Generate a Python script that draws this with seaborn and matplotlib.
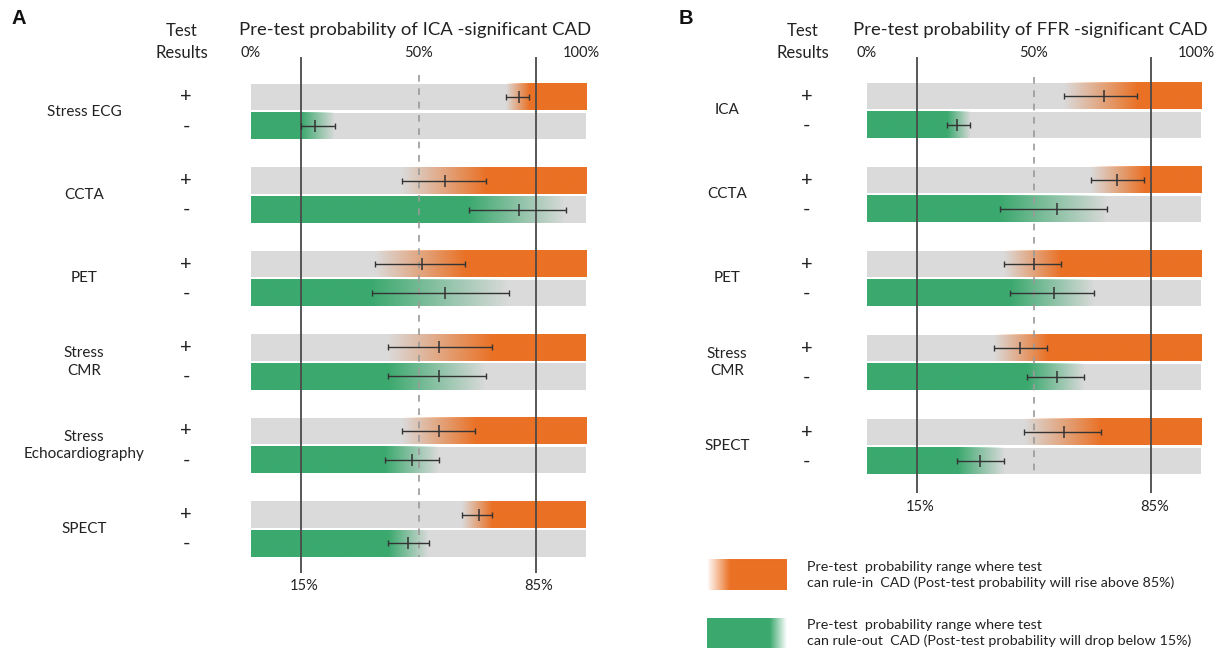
import numpy as np
import pandas as pd
import matplotlib
matplotlib.use("Agg")
import matplotlib.pyplot as plt
import seaborn as sns
from matplotlib.colors import to_rgb

# ---------------- data ----------------
A_tests = ["Stress ECG", "CCTA", "PET", "Stress\nCMR", "Stress\nEchocardiography", "SPECT"]
A_pos_center = [80, 58, 51, 56, 56, 68]
A_pos_low = [76, 45, 37, 41, 45, 63]
A_pos_high = [83, 70, 64, 72, 67, 72]
A_neg_center = [19, 80, 58, 56, 48, 47]
A_neg_low = [15, 65, 36, 41, 40, 41]
A_neg_high = [25, 94, 77, 70, 56, 53]

B_tests = ["ICA", "CCTA", "PET", "Stress\nCMR", "SPECT"]
B_pos_center = [71, 75, 50, 46, 59]
B_pos_low = [59, 67, 41, 38, 47]
B_pos_high = [81, 83, 58, 54, 70]
B_neg_center = [27, 57, 56, 57, 34]
B_neg_low = [24, 40, 43, 48, 27]
B_neg_high = [31, 72, 68, 65, 41]

tick_vals = [0, 50, 100]
tick_labels = ["0%", "50%", "100%"]
threshold_vals = [15, 85]
threshold_labels = ["15%", "85%"]

titles = ["Pre-test probability of ICA -significant CAD",
          "Pre-test probability of FFR -significant CAD"]
panel_letters = ["A", "B"]
legend_texts = ["Pre-test  probability range where test\ncan rule-in  CAD (Post-test probability will rise above 85%)",
                "Pre-test  probability range where test\ncan rule-out  CAD (Post-test probability will drop below 15%)"]

# ---------------- style ----------------
ORANGE = "#EA7125"
GREEN = "#3BA96E"
GRAY = "#DADADA"
DARK = "#333333"
TXT = "#222222"

sns.set_theme(style="white")
plt.rcParams["font.family"] = ["Lato", "DejaVu Sans"]

W, H = 1227, 651
fig = plt.figure(figsize=(W / 100, H / 100), dpi=100)


def gradient(ax, x0, x1, yc, h, color, low, high, rising, z=2, n=600):
    xs = np.linspace(x0, x1, n)
    if rising:
        a = np.clip((xs - low) / (high - low), 0, 1)
    else:
        a = np.clip((high - xs) / (high - low), 0, 1)
    rgb = to_rgb(color)
    img = np.zeros((1, n, 4))
    img[0, :, :3] = rgb
    img[0, :, 3] = a
    ax.imshow(img, extent=[x0, x1, yc + h / 2, yc - h / 2], aspect="auto",
              interpolation="bilinear", zorder=z)


def panel(left_px, right_px, y0_px, pitch_px, tests, pc, pl, ph, nc, nl, nh,
          label_px, sign_px, line_top_px, line_bot_px, dash_top_px, dash_bot_px,
          thr_label_px, title, letter, letter_px):
    ax = fig.add_axes([left_px / W, 0, (right_px - left_px) / W, 1])
    scale = (right_px - left_px) / 100.0

    def py(px):
        return (px - y0_px) / pitch_px

    def px_x(px):
        return (px - left_px) / scale

    bh = 26.5 / pitch_px
    off = 29.0 / pitch_px
    n = len(tests)
    ypos = np.arange(n, dtype=float)
    yneg = ypos + off

    # gray background bars
    ax.barh(np.concatenate([ypos, yneg]), 100, left=0, height=bh, color=GRAY,
            edgecolor="none", zorder=1)
    # gradients
    for i in range(n):
        gradient(ax, pl[i], 100, ypos[i], bh, ORANGE, pl[i], ph[i], True)
        gradient(ax, 0, nh[i], yneg[i], bh, GREEN, nl[i], nh[i], False)

    # reference lines
    ax.vlines(threshold_vals, py(line_top_px), py(line_bot_px), color="#4a4a4a",
              lw=1.3, zorder=3)
    ax.vlines([50], py(dash_top_px), py(dash_bot_px), color="#9a9a9a", lw=1.2,
              linestyles=(0, (4, 4)), zorder=3)

    # error bars
    df = pd.DataFrame({
        "center": list(pc) + list(nc),
        "low": list(pl) + list(nl),
        "high": list(ph) + list(nh),
        "y": list(ypos) + list(yneg),
    })
    ax.errorbar(df["center"], df["y"],
                xerr=[df["center"] - df["low"], df["high"] - df["center"]],
                fmt="none", ecolor=DARK, elinewidth=1.0, capsize=2.5,
                capthick=1.0, zorder=5)
    sns.scatterplot(data=df, x="center", y="y", marker="|", s=75, color=DARK,
                    linewidth=1.1, ax=ax, zorder=6, legend=False)

    # texts
    for i, t in enumerate(tests):
        ax.text(px_x(label_px), (ypos[i] + yneg[i]) / 2, t, ha="center",
                va="center", fontsize=11, color=TXT, linespacing=1.35)
        ax.text(px_x(sign_px), ypos[i], "+", ha="center", va="center",
                fontsize=14.5, color=TXT)
        ax.text(px_x(sign_px), yneg[i], "-", ha="center", va="center",
                fontsize=14.5, color=TXT)
    ax.text(px_x(sign_px - 4), py(31), "Test", ha="center", va="center",
            fontsize=12, color=TXT)
    ax.text(px_x(sign_px - 4), py(53), "Results", ha="center", va="center",
            fontsize=12, color=TXT)
    ax.text(49, py(30), title, ha="center", va="center", fontsize=13.3,
            color=TXT)
    for v, s in zip(tick_vals, tick_labels):
        ax.text(v - (1.5 if v == 100 else 0), py(53), s, ha="center",
                va="center", fontsize=10.5, color=TXT)
    for v, s in zip(threshold_vals, threshold_labels):
        ax.text(v + 1, py(thr_label_px), s, ha="center", va="center",
                fontsize=10.5, color=TXT)
    ax.text(px_x(letter_px), py(19), letter, ha="center", va="center",
            fontsize=14.5, fontweight="bold", family="Liberation Sans",
            color="#111111")

    ax.set_xlim(0, 100)
    ax.set_ylim(py(H), py(0))
    ax.axis("off")
    return ax, px_x, py


axA, _, _ = panel(251, 586, 97, 83.5, A_tests, A_pos_center, A_pos_low,
                  A_pos_high, A_neg_center, A_neg_low, A_neg_high,
                  label_px=84, sign_px=186, line_top_px=57, line_bot_px=573,
                  dash_top_px=75, dash_bot_px=557, thr_label_px=586,
                  title=titles[0], letter=panel_letters[0], letter_px=19)

axB, bx, by = panel(866.7, 1201, 96, 84.0, B_tests, B_pos_center, B_pos_low,
                    B_pos_high, B_neg_center, B_neg_low, B_neg_high,
                    label_px=727, sign_px=807, line_top_px=57, line_bot_px=493,
                    dash_top_px=77, dash_bot_px=474, thr_label_px=507,
                    title=titles[1], letter=panel_letters[1], letter_px=686)

# legend (drawn on panel B axes, outside data area)
lx0, lx1 = bx(707), bx(787)
oy, gy = by(575), by(633)
lh = 30 / 84.0
gradient(axB, lx0, lx1, oy, lh, ORANGE, lx0, bx(730), True)
gradient(axB, lx0, lx1, gy, lh, GREEN, bx(770), lx1, False)
axB.text(bx(807), oy, legend_texts[0], ha="left", va="center", fontsize=10.3,
         color=TXT, linespacing=1.4)
axB.text(bx(807), gy, legend_texts[1], ha="left", va="center", fontsize=10.3,
         color=TXT, linespacing=1.4)
axB.set_xlim(0, 100)
axB.set_ylim(by(H), by(0))
for a in (axA, axB):
    for im in a.images:
        im.set_clip_on(False)

fig.savefig("out.png", dpi=100)
